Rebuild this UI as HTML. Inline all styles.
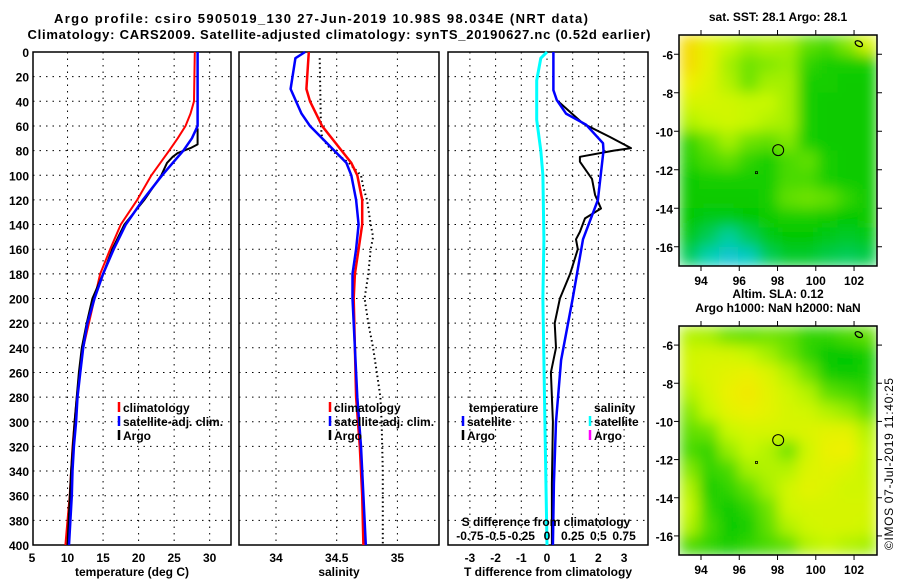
<!DOCTYPE html>
<html><head><meta charset="utf-8"><style>
html,body{margin:0;padding:0;background:#fff;}
svg{display:block;font-family:"Liberation Sans",Arial,sans-serif;font-weight:bold;}
</style></head><body>
<svg id="fig" width="900" height="580" viewBox="0 0 900 580" xmlns="http://www.w3.org/2000/svg">
<defs>
<filter id="soft" x="0" y="0" width="1" height="1"><feGaussianBlur stdDeviation="7" edgeMode="duplicate"/></filter>
<clipPath id="clip1"><rect x="679" y="35" width="198" height="231"/></clipPath>
<clipPath id="clip2"><rect x="679" y="326" width="198" height="229"/></clipPath>
</defs>
<rect width="900" height="580" fill="#fff"/>
<text x="321" y="23" font-size="13" text-anchor="middle" textLength="534">Argo profile: csiro 5905019_130 27-Jun-2019 10.98S 98.034E (NRT data)</text>
<text x="339" y="39" font-size="13" text-anchor="middle" textLength="623">Climatology: CARS2009. Satellite-adjusted climatology: synTS_20190627.nc (0.52d earlier)</text>
<g id="layer"></g>
<text transform="translate(893,550) rotate(-90)" font-size="12" font-weight="normal" textLength="172">©IMOS 07-Jul-2019 11:40:25</text>
</svg>
<script>
// ---------- data ----------
const depthTicks=[0,20,40,60,80,100,120,140,160,180,200,220,240,260,280,300,320,340,360,380,400];
const tempTicks=[5,10,15,20,25,30];
const salTicks=[34,34.5,35];
const diffTicks=[-3,-2,-1,0,1,2,3];
const sdiffTickLabels=["-0.75","-0.5","-0.25","0","0.25","0.5","0.75"];
const sdiffTicks=[-0.75,-0.5,-0.25,0,0.25,0.5,0.75];

const climTDepth=[0,40,50,60,70,80,100,120,140,160,180,200,220,240,260,280,300,320,340,360,380,400];
const climT=[27.9,27.8,27.3,26.6,25.5,24.3,21.8,19.8,17.5,16.0,14.6,13.8,13.0,12.2,11.7,11.3,11.0,10.7,10.5,10.3,10.0,9.7];
const satTDepth=[0,60,70,80,90,100,120,140,160,180,200,220,240,260,280,300,320,340,360,380,400];
const satT=[28.3,28.3,27.5,26.3,24.8,23.3,20.6,18.2,16.5,15.0,13.8,12.8,12.2,11.8,11.4,11.2,10.9,10.7,10.6,10.4,10.2];
const argoTDepth=[62,75,78,82,85,90,100,110,120,140,160,180,200,220,240,260,300,340,400];
const argoT=[28.3,28.3,27.3,25.5,24.8,24.0,23.2,22.0,20.8,18.0,16.3,15.0,13.5,12.7,12.0,11.6,11.0,10.5,10.0];

const climSDepth=[0,30,40,60,80,90,100,120,140,160,180,200,240,280,320,360,400];
const climS=[34.27,34.25,34.28,34.38,34.54,34.62,34.67,34.71,34.71,34.68,34.65,34.64,34.65,34.66,34.69,34.71,34.72];
const satSDepth=[0,5,30,50,60,70,80,90,100,120,140,160,180,200,240,280,320,360,400];
const satS=[34.24,34.16,34.12,34.21,34.28,34.38,34.48,34.58,34.62,34.66,34.68,34.66,34.63,34.63,34.65,34.67,34.70,34.72,34.74];
const argoSDepth=[5,60,70,80,90,100,110,120,140,150,160,180,200,220,240,260,280,300,340,400];
const argoS=[34.36,34.37,34.38,34.46,34.6,34.7,34.72,34.75,34.78,34.8,34.78,34.76,34.73,34.76,34.8,34.83,34.86,34.87,34.88,34.88];

const satSdiffDepth=[0,5,23,55,80,100,152,200,300,400];
const satSdiff=[0,-0.06,-0.1,-0.1,-0.06,-0.04,-0.03,-0.04,-0.02,0];
const satTdiffDepth=[0,31,39,50,59,74,80,120,152,200,250,300,350,400];
const satTdiff=[0.25,0.25,0.38,0.74,1.52,2.18,2.2,1.98,1.4,1.0,0.55,0.35,0.27,0.23];
const argoTdiffDepth=[39,58,69,78,80,85,89,103,116,127,135,146,152,160,180,200,220,240,260,300,350,400];
const argoTdiff=[0.38,1.4,2.45,3.27,2.6,1.28,1.28,1.75,1.87,2.1,1.48,1.28,1.13,1.2,0.9,0.5,0.3,0.35,0.15,0.23,0.19,0.19];

const mapLonTicks=[94,96,98,100,102];
const mapLatTicks=[-6,-8,-10,-12,-14,-16];
const sstGrid=[
[0.95,0.85,0.75,0.7,0.72,0.7,0.6,0.55,0.65,0.8],
[0.95,0.85,0.7,0.62,0.65,0.68,0.5,0.45,0.45,0.45],
[0.9,0.82,0.72,0.62,0.7,0.7,0.45,0.45,0.42,0.42],
[0.8,0.8,0.78,0.75,0.75,0.7,0.45,0.42,0.42,0.42],
[0.72,0.75,0.78,0.75,0.72,0.7,0.45,0.42,0.42,0.42],
[0.5,0.62,0.7,0.62,0.6,0.65,0.45,0.42,0.42,0.42],
[0.48,0.55,0.6,0.5,0.45,0.55,0.6,0.45,0.42,0.42],
[0.42,0.45,0.45,0.45,0.45,0.55,0.55,0.45,0.42,0.42],
[0.42,0.42,0.42,0.42,0.45,0.6,0.62,0.6,0.5,0.42],
[0.4,0.38,0.38,0.4,0.42,0.45,0.45,0.42,0.4,0.42],
[0.38,0.3,0.22,0.3,0.38,0.4,0.4,0.38,0.35,0.38],
[0.3,0.2,0.1,0.15,0.3,0.35,0.35,0.32,0.3,0.32]];
const slaGrid=[
[0.72,0.7,0.62,0.6,0.62,0.6,0.5,0.5,0.55,0.6],
[0.78,0.8,0.8,0.75,0.7,0.62,0.5,0.4,0.4,0.45],
[0.78,0.82,0.85,0.88,0.82,0.72,0.62,0.45,0.42,0.45],
[0.72,0.8,0.88,0.92,0.85,0.78,0.72,0.6,0.55,0.5],
[0.65,0.75,0.85,0.88,0.85,0.8,0.78,0.72,0.68,0.6],
[0.6,0.62,0.75,0.8,0.8,0.8,0.82,0.85,0.85,0.72],
[0.55,0.5,0.68,0.75,0.72,0.62,0.78,0.88,0.9,0.75],
[0.65,0.5,0.55,0.7,0.72,0.72,0.82,0.85,0.82,0.75],
[0.72,0.45,0.5,0.6,0.7,0.78,0.85,0.82,0.78,0.78],
[0.75,0.5,0.42,0.5,0.62,0.78,0.8,0.8,0.8,0.8],
[0.72,0.55,0.42,0.45,0.6,0.72,0.78,0.8,0.8,0.78],
[0.55,0.5,0.45,0.5,0.55,0.6,0.72,0.75,0.72,0.7]];
const argoLon=98.034, argoLat=-10.98;

// ---------- helpers ----------
const NS="http://www.w3.org/2000/svg";
const layer=document.getElementById('layer');
function mk(tag,attrs,parent){const e=document.createElementNS(NS,tag);for(const k in attrs)e.setAttribute(k,attrs[k]);(parent||layer).appendChild(e);return e;}
function txt(x,y,s,size,anchor,parent){const t=mk('text',{x:x,y:y,'font-size':size,'text-anchor':anchor||'middle'},parent);t.textContent=s;return t;}

const Y0=52,Y1=545;
const yD=d=>Y0+(d/400)*(Y1-Y0);
function lin(d0,d1,r0,r1){return v=>r0+(v-d0)/(d1-d0)*(r1-r0);}

function panel(name,L,R,xs,xTicks,xLabels,xTitle,showY){
  const g=mk('g',{});
  
  
  depthTicks.forEach(d=>{if(d>0&&d<400){const l=mk('line',{x1:L,x2:R,y1:yD(d),y2:yD(d),stroke:'#000','stroke-width':1,'stroke-dasharray':'1.5 5'},g);
    
    }});
  xTicks.forEach((v,i)=>{const x=xs(v);
    if(x>L+1&&x<R-1){const l=mk('line',{x1:x,x2:x,y1:Y0,y2:Y1,stroke:'#000','stroke-width':1,'stroke-dasharray':'1.5 5'},g);
    
    }
    const t=txt(x,562,xLabels[i],12,'middle',g);
    
    });
  if(showY){depthTicks.forEach(d=>{const t=txt(L-4,yD(d)+5,String(d),12,'end',g);
    
    });}
  const tt=txt((L+R)/2,576,xTitle,12,'middle',g);
  
  
  const fr=mk('rect',{x:L,y:Y0,width:R-L,height:Y1-Y0,fill:'none',stroke:'#000','stroke-width':1.5},g);
  
  
  return g;
}
function series(g,name,xs,depths,vals,color,w,dash){
  const pts=depths.map((d,i)=>xs(vals[i]).toFixed(1)+','+yD(d).toFixed(1)).join(' ');
  const p=mk('polyline',{points:pts,fill:'none',stroke:color,'stroke-width':w,'stroke-linejoin':'round'},g);
  if(dash)p.setAttribute('stroke-dasharray',dash);
  
  
}
function legend(g,x,y,items){
  items.forEach((it,i)=>{
    if(it.c){const b=mk('line',{x1:x,x2:x,y1:y+i*14-10,y2:y+i*14,stroke:it.c,'stroke-width':2.5},g);
      
      }
    const t=txt(x+(it.c?4:0),y+i*14,it.t,12,'start',g);
    
    });
}

// ---------- temperature panel ----------
const xT=lin(5,33,32,231);
const gT=panel('temperature-panel',33,231,xT,tempTicks,tempTicks.map(String),'temperature (deg C)',true);
series(gT,'climatology-temperature-line',xT,climTDepth,climT,'#f00',2);
series(gT,'argo-temperature-line',xT,argoTDepth,argoT,'#000',2);
series(gT,'satellite-temperature-line',xT,satTDepth,satT,'#00f',2.5);
legend(gT,119,412,[{t:'climatology',c:'#f00'},{t:'satellite-adj. clim.',c:'#00f'},{t:'Argo',c:'#000'}]);

// ---------- salinity panel ----------
const xS=lin(34,35,276,397.4);
const gS=panel('salinity-panel',239,439,xS,salTicks,['34','34.5','35'],'salinity',false);
series(gS,'argo-salinity-line',xS,argoSDepth,argoS,'#000',2,'1.5 3');
series(gS,'climatology-salinity-line',xS,climSDepth,climS,'#f00',2.5);
series(gS,'satellite-salinity-line',xS,satSDepth,satS,'#00f',2.5);
legend(gS,330,412,[{t:'climatology',c:'#f00'},{t:'satellite-adj. clim.',c:'#00f'},{t:'Argo',c:'#000'}]);

// ---------- difference panel ----------
const xDf=lin(0,1,547,572.7);
const xSd=v=>xDf(v*4);
const gD=panel('difference-panel',448,648,xDf,diffTicks,diffTicks.map(String),'T difference from climatology',false);
series(gD,'satellite-salinity-diff-line',xSd,satSdiffDepth,satSdiff,'#0ff',3);
series(gD,'argo-temperature-diff-line',xDf,argoTdiffDepth,argoTdiff,'#000',2);
series(gD,'satellite-temperature-diff-line',xDf,satTdiffDepth,satTdiff,'#00f',2.5);
legend(gD,469,412,[{t:'temperature'}]);
legend(gD,463,426,[{t:'satellite',c:'#00f'},{t:'Argo',c:'#000'}]);
legend(gD,594,412,[{t:'salinity'}]);
legend(gD,590,426,[{t:'satellite',c:'#0ff'},{t:'Argo',c:'#f0f'}]);
const sdt=txt(546,526,'S difference from climatology',12,'middle',gD);


sdiffTicks.forEach((v,i)=>{const t=txt(xSd(v),540,sdiffTickLabels[i],12,'middle',gD);
  
  });

// ---------- maps ----------
const cmapStops=[[0,[16,184,240]],[0.2,[0,208,176]],[0.4,[0,200,0]],[0.6,[96,224,0]],[0.75,[200,248,0]],[0.9,[240,240,0]],[1,[248,200,0]]];
function cmap(v){for(let i=1;i<cmapStops.length;i++){if(v<=cmapStops[i][0]){const a=cmapStops[i-1],b=cmapStops[i];const f=(v-a[0])/(b[0]-a[0]);
  return 'rgb('+a[1].map((c,k)=>Math.round(c+f*(b[1][k]-c))).join(',')+')';}}return 'rgb(248,200,0)';}
function map(name,T,B,grid,titles,clipId){
  const L=679,R=877;
  const lonMin=92.85,lonMax=103.2,latMax=-5.0,latMin=-17.0;
  const xL=lin(lonMin,lonMax,L,R), yL=lin(latMax,latMin,T,B);
  const g=mk('g',{});
  
  
  const clipG=mk('g',{'clip-path':'url(#'+clipId+')'},g);
  const cells=mk('g',{filter:'url(#soft)'},clipG);
  const rows=grid.length, cols=grid[0].length;
  const cw=(R-L)/cols, ch=(B-T)/rows;
  grid.forEach((row,r)=>row.forEach((v,c)=>{
    const cell=mk('rect',{x:L+c*cw,y:T+r*ch,width:cw+0.5,height:ch+0.5,fill:cmap(v)},cells);
    
    }));
  const fr=mk('rect',{x:L,y:T,width:R-L,height:B-T,fill:'none',stroke:'#000','stroke-width':1.5},g);
  
  
  mapLonTicks.forEach(v=>{const x=xL(v);
    mk('line',{x1:x,x2:x,y1:B,y2:B+5,stroke:'#000'},g);mk('line',{x1:x,x2:x,y1:T,y2:T-5,stroke:'#000'},g);
    const t=txt(x,B+19,String(v),12,'middle',g);
    
    });
  mapLatTicks.forEach(v=>{const y=yL(v);
    mk('line',{x1:L,x2:L-5,y1:y,y2:y,stroke:'#000'},g);mk('line',{x1:R,x2:R+5,y1:y,y2:y,stroke:'#000'},g);
    const t=txt(L-6,y+5,String(v),12,'end',g);
    
    });
  const pos=mk('circle',{cx:xL(argoLon),cy:yL(argoLat),r:5.5,fill:'none',stroke:'#000','stroke-width':1},g);
  
  
  const isl=mk('ellipse',{cx:xL(102.25),cy:yL(-5.45),rx:4,ry:2.5,fill:'none',stroke:'#000','stroke-width':1.3,transform:'rotate(30 '+xL(102.25)+' '+yL(-5.45)+')'},g);
  
  
  const isl2=mk('rect',{x:xL(96.9)-1,y:yL(-12.15)-1,width:2,height:2,fill:'none',stroke:'#000','stroke-width':0.8},g);
  
  
  titles.forEach((s,i)=>{const t=txt(778,T-22+i*14-(titles.length-1)*14+8,s,12,'middle',g);
    
    });
}
map('sst-map',35,266,sstGrid,['sat. SST: 28.1 Argo: 28.1'],'clip1');
map('sla-map',326,555,slaGrid,['Altim. SLA: 0.12','Argo h1000: NaN h2000: NaN'],'clip2');
</script>
</body></html>
